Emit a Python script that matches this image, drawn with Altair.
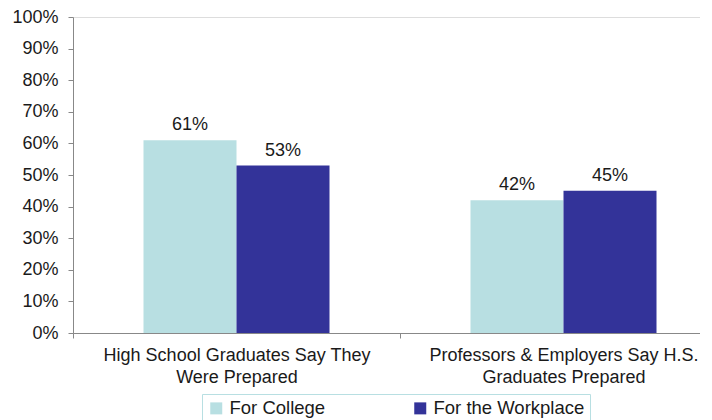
import altair as alt
import pandas as pd

categories = ["High School Graduates Say They|Were Prepared",
              "Professors & Employers Say H.S.|Graduates Prepared"]
series = ["For College", "For the Workplace"]
college = [0.61, 0.42]
workplace = [0.53, 0.45]
colors = ["#b8dfe2", "#333399"]

rows = []
for i, c in enumerate(categories):
    rows.append({"category": c, "series": series[0], "value": college[i]})
    rows.append({"category": c, "series": series[1], "value": workplace[i]})
df = pd.DataFrame(rows)

FONT = "Liberation Sans"

x = alt.X("category:N", sort=categories, title=None,
          scale=alt.Scale(paddingInner=0, paddingOuter=0, range=[0, 654]),
          axis=alt.Axis(labelAngle=0, labelExpr="split(datum.label, '|')",
                        labelLineHeight=22, labelFontSize=18, labelFont=FONT,
                        labelColor="#1a1a1a", tickBand="extent", tickSize=5,
                        labelPadding=8, domainColor="#888888", tickColor="#888888",
                        labelLimit=400))
xo = alt.XOffset("series:N", sort=series,
                 scale=alt.Scale(paddingInner=0, paddingOuter=0.758))
y = alt.Y("value:Q", title=None,
          scale=alt.Scale(domain=[0, 1]),
          axis=alt.Axis(format=".0%", values=[i / 10 for i in range(11)],
                        grid=False, labelFontSize=18, labelFont=FONT,
                        labelColor="#1a1a1a", tickSize=5, labelPadding=10,
                        domainColor="#888888", tickColor="#888888"))

color = alt.Color("series:N", sort=series,
                  scale=alt.Scale(domain=series, range=colors),
                  legend=alt.Legend(title=None, orient="none", legendX=129, legendY=377,
                                    direction="horizontal", symbolType="square",
                                    symbolSize=144, symbolStrokeWidth=0,
                                    labelFontSize=18.5, labelFont=FONT, labelColor="#1a1a1a",
                                    columnPadding=85, labelOffset=4,
                                    strokeColor="#b8dfe2", padding=5))

bars = alt.Chart(df).mark_bar().encode(x=x, xOffset=xo, y=y, color=color)
labels = alt.Chart(df).mark_text(font=FONT, fontSize=18, color="#1a1a1a",
                                 baseline="middle", dy=-15).encode(
    x=x, xOffset=xo, y=y, text=alt.Text("value:Q", format=".0%"))

chart = alt.layer(bars, labels).properties(
    width=627, height=316,
    autosize=alt.AutoSizeParams(type="none"),
    padding={"left": 65, "top": 9, "right": 0, "bottom": 87},
).configure_view(stroke=None).configure(background="white")

chart.save("out.html", embed_options={"renderer": "svg", "actions": False})
